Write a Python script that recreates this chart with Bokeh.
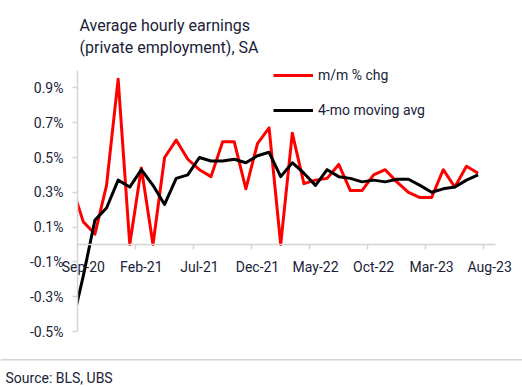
from bokeh.plotting import figure
from bokeh.models import (Range1d, LinearAxis, FixedTicker, PrintfTickFormatter,
                          Label, Span, Legend, LegendItem, BoxAnnotation)
from bokeh.embed import file_html
from bokeh.resources import INLINE

# ---- data (monthly, Aug-20 .. Jul-23; Aug-20 sits left of the axis start and is clipped) ----
months = ["Aug-20", "Sep-20", "Oct-20", "Nov-20", "Dec-20", "Jan-21", "Feb-21", "Mar-21",
          "Apr-21", "May-21", "Jun-21", "Jul-21", "Aug-21", "Sep-21", "Oct-21", "Nov-21",
          "Dec-21", "Jan-22", "Feb-22", "Mar-22", "Apr-22", "May-22", "Jun-22", "Jul-22",
          "Aug-22", "Sep-22", "Oct-22", "Nov-22", "Dec-22", "Jan-23", "Feb-23", "Mar-23",
          "Apr-23", "May-23", "Jun-23", "Jul-23"]
mm_chg = [0.34, 0.13, 0.06, 0.34, 0.95, 0.00, 0.44, 0.00,
          0.50, 0.60, 0.49, 0.43, 0.39, 0.59, 0.59, 0.32,
          0.58, 0.67, 0.00, 0.64, 0.35, 0.37, 0.38, 0.46,
          0.31, 0.31, 0.40, 0.43, 0.36, 0.30, 0.27, 0.27,
          0.43, 0.33, 0.45, 0.41]
mov_avg4 = [-0.47, -0.18, 0.14, 0.21, 0.37, 0.33, 0.43, 0.34,
            0.23, 0.38, 0.40, 0.50, 0.48, 0.48, 0.49, 0.47,
            0.51, 0.53, 0.39, 0.47, 0.41, 0.34, 0.43, 0.39,
            0.38, 0.36, 0.37, 0.36, 0.375, 0.375, 0.34, 0.30,
            0.32, 0.33, 0.37, 0.40]
tick_labels = ["Sep-20", "Feb-21", "Jul-21", "Dec-21", "May-22", "Oct-22", "Mar-23", "Aug-23"]
y_ticks = [-0.5, -0.3, -0.1, 0.1, 0.3, 0.5, 0.7, 0.9]

FONT = "Roboto"
TXT = "#1a2238"
AXC = "#d4d4d4"

# month k (Sep-20 = 0) is centred at k + 0.5
x = [i - 0.5 for i in range(len(months))]

p = figure(width=522, height=387, title=None,
           x_range=Range1d(-6.632, 38.326), y_range=Range1d(-0.8218, 1.4023),
           x_axis_type=None, y_axis_type=None,
           output_backend="svg", toolbar_location=None, min_border=0)
p.outline_line_color = None
p.background_fill_color = "white"

r_red = p.line(x, mm_chg, line_color="#ff0000", line_width=3, line_join="round")
r_blk = p.line(x, mov_avg4, line_color="#000000", line_width=3, line_join="round")

# mask: the plot area starts at Sep-20, earlier part of the lines is clipped away
p.add_layout(BoxAnnotation(right=0, fill_color="white", fill_alpha=1.0,
                           line_color=None, level="glyph"))

# y axis
yax = LinearAxis(fixed_location=0, ticker=FixedTicker(ticks=y_ticks, minor_ticks=[]),
                 formatter=PrintfTickFormatter(format="%.1f%%"), bounds=(-0.5, 1.0))
yax.axis_line_color = AXC
yax.axis_line_width = 1.5
yax.major_tick_line_color = AXC
yax.major_tick_line_width = 1.5
yax.major_tick_out = 5
yax.major_tick_in = 0
yax.major_label_standoff = 9
yax.major_label_text_font = FONT
yax.major_label_text_font_size = "14px"
yax.major_label_text_color = TXT
p.add_layout(yax, "left")

# x axis at y = 0, labels centred on the month, tick marks at month boundaries
centers = [0.5 + 5 * j for j in range(len(tick_labels))]
bounds_ticks = [5 * j for j in range(len(tick_labels))]
xax = LinearAxis(fixed_location=0,
                 ticker=FixedTicker(ticks=centers, minor_ticks=bounds_ticks),
                 major_label_overrides={c: lab for c, lab in zip(centers, tick_labels)},
                 bounds=(0, 36))
xax.axis_line_color = AXC
xax.axis_line_width = 1.5
xax.major_tick_line_color = None
xax.major_tick_out = 0
xax.major_tick_in = 0
xax.minor_tick_line_color = AXC
xax.minor_tick_line_width = 1.5
xax.minor_tick_out = 5
xax.minor_tick_in = 0
xax.major_label_standoff = 9
xax.major_label_text_font = FONT
xax.major_label_text_font_size = "14px"
xax.major_label_text_color = TXT
p.add_layout(xax, "below")

# legend
legend = Legend(items=[LegendItem(label="m/m % chg", renderers=[r_red]),
                       LegendItem(label="4-mo moving avg", renderers=[r_blk])],
                location=(273, 267), orientation="vertical")
legend.padding = 0
legend.margin = 0
legend.spacing = 15
legend.glyph_width = 40
legend.glyph_height = 20
legend.label_height = 20
legend.label_standoff = 5
legend.label_text_font = FONT
legend.label_text_font_size = "14px"
legend.label_text_color = TXT
legend.border_line_color = None
legend.background_fill_alpha = 0
p.add_layout(legend, "center")

# titles and source
for txt, yy in [("Average hourly earnings", 362), ("(private employment), SA", 340)]:
    p.add_layout(Label(x=79, y=yy, x_units="screen", y_units="screen", text=txt,
                       text_font=FONT, text_font_size="16px", text_color=TXT,
                       text_baseline="alphabetic"))
p.add_layout(Span(location=-0.6626, dimension="width", line_color=AXC, line_width=1.5))
p.add_layout(Label(x=5, y=10, x_units="screen", y_units="screen", text="Source: BLS, UBS",
                   text_font=FONT, text_font_size="14px", text_color=TXT,
                   text_baseline="alphabetic"))

open("out.html", "w").write(file_html(p, INLINE))
